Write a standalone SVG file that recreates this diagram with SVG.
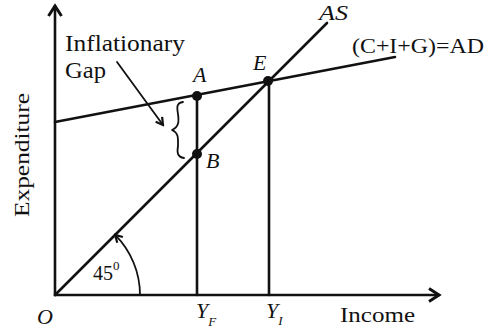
<svg xmlns="http://www.w3.org/2000/svg" width="485" height="334" viewBox="0 0 485 334">
<style>
.ln{stroke:#111;stroke-width:2.6;fill:none;stroke-linecap:round}
.thin{stroke:#111;stroke-width:1.8;fill:none;stroke-linecap:round;stroke-linejoin:round}
.t{font-family:"Liberation Serif","Times New Roman",serif;fill:#111}
.i{font-style:italic}
</style>
<defs>
<marker id="ah" markerWidth="10" markerHeight="10" refX="8" refY="5" orient="auto" markerUnits="userSpaceOnUse">
<path d="M1,1 L8,5 L1,9" fill="none" stroke="#111" stroke-width="2.2"/>
</marker>
<marker id="ax" markerWidth="16" markerHeight="16" refX="13" refY="8" orient="auto" markerUnits="userSpaceOnUse">
<path d="M3,1.5 L13,8 L3,14.5" fill="none" stroke="#111" stroke-width="3"/>
</marker>
</defs>
<rect width="485" height="334" fill="#fff"/>
<g id="axes">
<line class="ln" x1="55" y1="295" x2="55" y2="6" marker-end="url(#ax)"/>
<line class="ln" x1="55" y1="295" x2="439" y2="295" marker-end="url(#ax)"/>
</g>
<g id="connectors">
<line class="ln" x1="55" y1="295" x2="327" y2="23"/>
<line class="ln" x1="55" y1="122" x2="395" y2="57"/>
<line class="ln" x1="197" y1="96" x2="197" y2="295"/>
<line class="ln" x1="269" y1="81" x2="269" y2="295"/>
<path class="thin" d="M140,295 A85,85 0 0 0 115.1,234.9" marker-end="url(#ah)"/>
<line class="thin" x1="117" y1="62" x2="163" y2="125" marker-end="url(#ah)"/>
<path class="thin" d="M183,102 C176,103 177,108 178,114 C179,121 179,127 172,130 C179,133 178,139 178,146 C177,152 177,157 184,158"/>
</g>
<g id="A"><circle cx="197" cy="96" r="5" fill="#111"/><text class="t i" x="193" y="82" font-size="22">A</text></g>
<g id="B"><circle cx="197" cy="154" r="5" fill="#111"/><text class="t i" x="206" y="168" font-size="22">B</text></g>
<g id="E"><circle cx="268" cy="81" r="5" fill="#111"/><text class="t i" x="253" y="70" font-size="22">E</text></g>
<g id="O"><text class="t i" x="37" y="324" font-size="22">O</text></g>
<g id="labels">
<text class="t" x="65" y="51" font-size="24" textLength="120" lengthAdjust="spacingAndGlyphs">Inflationary</text>
<text class="t" x="65" y="78" font-size="24" textLength="41" lengthAdjust="spacingAndGlyphs">Gap</text>
<text class="t i" x="319" y="20" font-size="22" textLength="29" lengthAdjust="spacingAndGlyphs">AS</text>
<text class="t" x="352" y="53" font-size="22" textLength="132" lengthAdjust="spacingAndGlyphs">(C+I+G)=AD</text>
<text class="t" x="93" y="280" font-size="21" textLength="20" lengthAdjust="spacingAndGlyphs">45</text>
<text class="t" x="113" y="270" font-size="13">0</text>
<text class="t i" x="196" y="318" font-size="22">Y<tspan font-size="13" dy="8">F</tspan></text>
<text class="t i" x="266" y="318" font-size="22">Y<tspan font-size="13" dy="7">I</tspan></text>
<text class="t" x="340" y="322" font-size="22" textLength="75" lengthAdjust="spacingAndGlyphs">Income</text>
<text class="t" transform="translate(29,217) rotate(-90)" font-size="22" textLength="124" lengthAdjust="spacingAndGlyphs">Expenditure</text>
</g>
</svg>
